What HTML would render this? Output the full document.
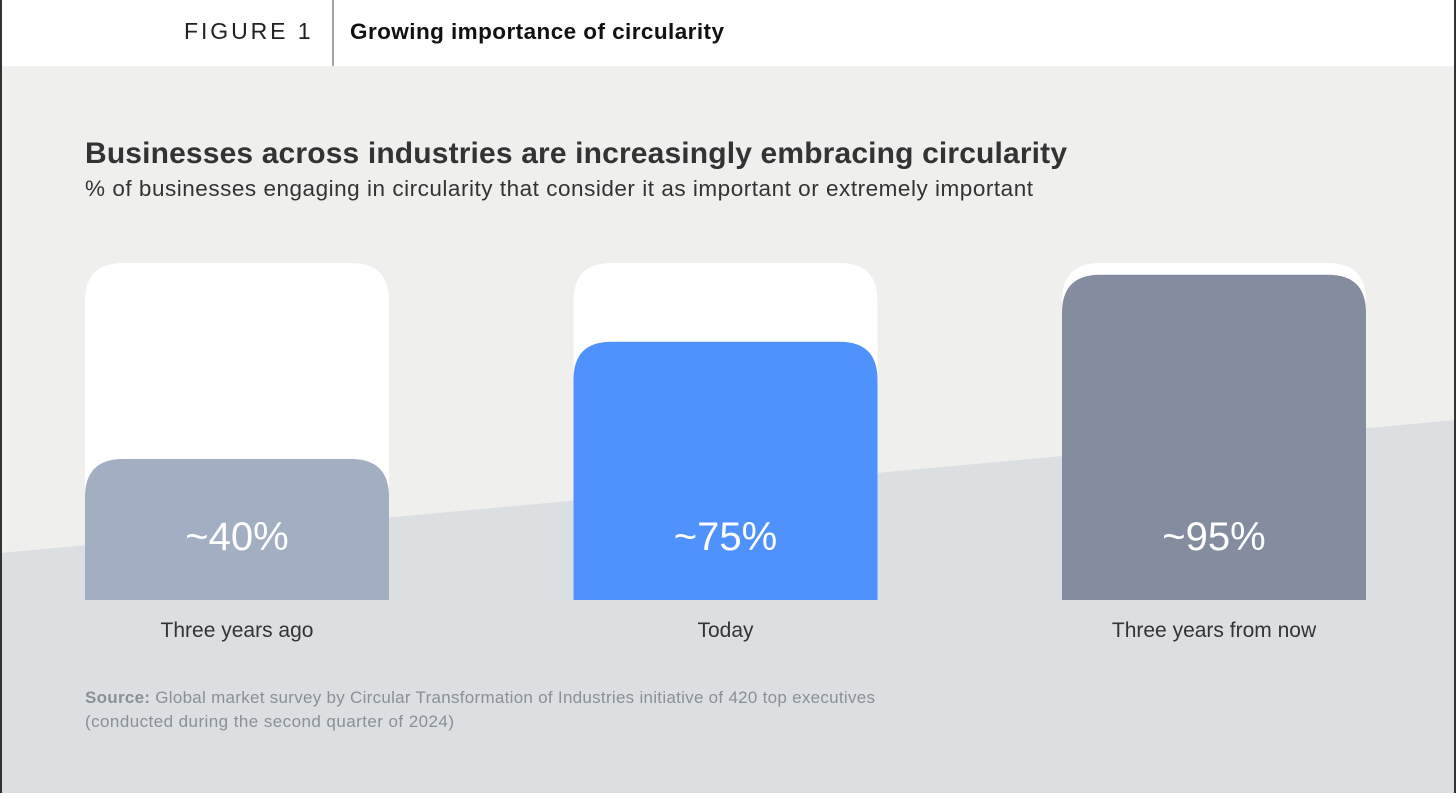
<!DOCTYPE html>
<html><head><meta charset="utf-8"><style>
body{margin:0;width:1456px;height:793px;overflow:hidden;font-family:"Liberation Sans",sans-serif;}
</style></head><body>
<svg width="1456" height="793" xmlns="http://www.w3.org/2000/svg">
<rect x="0" y="0" width="1456" height="66" fill="#ffffff"/>
<rect x="0" y="66" width="1456" height="727" fill="#efefed"/>
<polygon points="0,553 1456,420 1456,793 0,793" fill="#dcdfe2"/>
<rect x="0" y="0" width="2" height="793" fill="#333"/>
<rect x="1454" y="0" width="2" height="793" fill="#333"/>
<line x1="333" y1="0" x2="333" y2="66" stroke="#888" stroke-width="1.5"/>
<text x="184" y="39" textLength="130" font-size="23" letter-spacing="3.5" fill="#222">FIGURE 1</text>
<text x="350" y="39" font-size="22.5" textLength="374" font-weight="bold" fill="#111">Growing importance of circularity</text>
<text x="85" y="163" font-size="30" textLength="982" font-weight="bold" fill="#333">Businesses across industries are increasingly embracing circularity</text>
<text x="85" y="196" font-size="22.5" textLength="948" fill="#333">% of businesses engaging in circularity that consider it as important or extremely important</text>
<g id="bars"></g>
<text x="85" y="703" font-size="17" textLength="790" fill="#8a8f98"><tspan font-weight="bold">Source:</tspan> Global market survey by Circular Transformation of Industries initiative of 420 top executives</text>
<text x="85" y="727" font-size="17" textLength="369" fill="#8a8f98">(conducted during the second quarter of 2024)</text>
</svg>
<script>
const categories=["Three years ago","Today","Three years from now"];
const values=[40,75,95];
const labels=["~40%","~75%","~95%"];
const colors=["#a2aec2","#5092fd","#838d9f"];
const NS="http://www.w3.org/2000/svg";
const g=document.getElementById('bars');
const base=600, top0=263, bw=304, r=38;
function xPos(i){return 85+i*488.5;}
function yPos(v){return base-(7+v*3.35);}
function roundTop(x,y,w,h,r){return `M${x},${y+h}V${y+r}Q${x},${y} ${x+r},${y}H${x+w-r}Q${x+w},${y} ${x+w},${y+r}V${y+h}Z`;}
categories.forEach((c,i)=>{
 const x=xPos(i);
 const bg=document.createElementNS(NS,'path');
 bg.setAttribute('d',roundTop(x,top0,bw,base-top0,r));bg.setAttribute('fill','#fff');
 
 
 g.appendChild(bg);
 const y=yPos(values[i]);
 const b=document.createElementNS(NS,'path');
 b.setAttribute('d',roundTop(x,y,bw,base-y,r));b.setAttribute('fill',colors[i]);
 
 
 g.appendChild(b);
 const t=document.createElementNS(NS,'text');
 t.setAttribute('x',x+bw/2);t.setAttribute('y',550);t.setAttribute('text-anchor','middle');
 t.setAttribute('font-size','40');t.setAttribute('fill','#fff');t.textContent=labels[i];
 
 
 g.appendChild(t);
 const l=document.createElementNS(NS,'text');
 l.setAttribute('x',x+bw/2);l.setAttribute('y',637);l.setAttribute('text-anchor','middle');
 l.setAttribute('font-size','21');l.setAttribute('fill','#333');l.textContent=c;
 
 
 g.appendChild(l);
});
</script>
</body></html>
